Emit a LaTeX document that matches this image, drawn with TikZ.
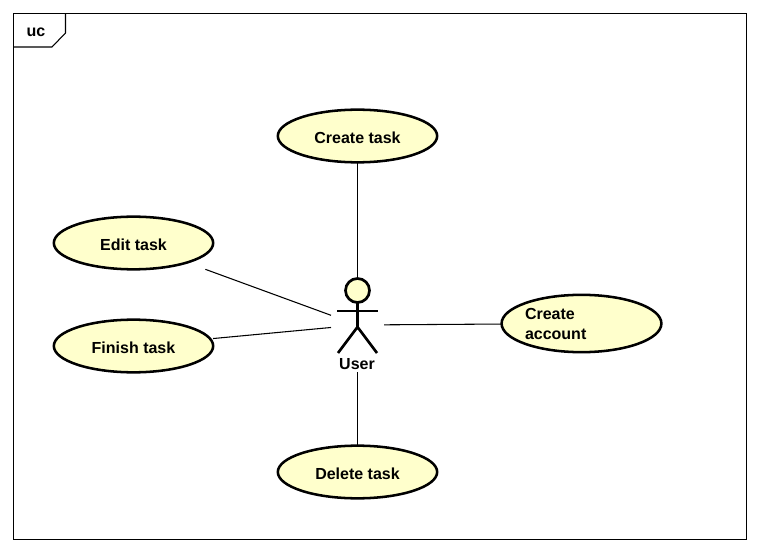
\documentclass[tikz,border=0pt]{standalone}
\usepackage{fontspec}
\setmainfont{Liberation Sans}
\usetikzlibrary{shapes.geometric}
\definecolor{ucfill}{RGB}{255,255,204}
\tikzset{
  usecase/.style={draw, ellipse, fill=ucfill, line width=1.9pt, inner sep=0pt, outer sep=0pt,
    minimum width=119.5pt, minimum height=39.5pt, font=\bfseries\fontsize{12}{15}\selectfont},
  oneline/.style={text height=10.6pt, text depth=0pt},
  ucbox/.style={rectangle, inner sep=0pt, outer sep=0pt, minimum width=119.5pt, minimum height=39.5pt},
  assoc/.style={draw, line width=0.8pt},
  stick/.style={draw, line width=2pt},
}
\begin{document}
\begin{tikzpicture}[x=0.75pt,y=-0.75pt]
\useasboundingbox (0,0) rectangle (760,552);
\fill[white] (0,0) rectangle (760,552);

\coordinate (tl) at (13.5,13.5);
\coordinate (br) at (746.5,539.5);
\draw[line width=0.8pt] (tl) rectangle (br);
\draw[line width=0.8pt] (13.5,47) -- (52,47) -- (65.5,33) -- (65.5,13.5);
\node[font=\bfseries\fontsize{12}{15}\selectfont] (tag) at (36,32) {uc};

\node[usecase, oneline] (create) at (357.5,136) {Create task};
\node[usecase, oneline] (edit) at (133.5,243) {Edit task};
\node[usecase, oneline] (finish) at (133.5,346) {Finish task};
\node[usecase, oneline] (delete) at (357.5,472) {Delete task};
\node[usecase, minimum height=43pt, align=left, text width=84.75pt] (account) at (581.5,323.5) {Create\\account};

\node[ucbox] (createbox) at (create) {};
\node[ucbox] (editbox) at (edit) {};
\node[ucbox] (finishbox) at (finish) {};
\node[ucbox] (deletebox) at (delete) {};
\node[ucbox, minimum height=43pt] (accountbox) at (account) {};

\node[draw, circle, fill=ucfill, line width=2pt, minimum size=18pt, inner sep=0pt, outer sep=0pt] (head) at (357.5,290.5) {};
\coordinate (neck) at (357.5,327);
\coordinate (footl) at (338,353);
\coordinate (footr) at (377,353);
\coordinate (arml) at (337,311);
\coordinate (armr) at (378,311);
\path[stick] (head) -- (neck);
\path[stick] (arml) -- (armr);
\path[stick] (footl) -- (neck) -- (footr);
\node[font=\bfseries\fontsize{12}{15}\selectfont] (name) at (357,364) {User};

\node[rectangle, inner sep=0pt, outer sep=0pt, minimum width=39.75pt, minimum height=70.5pt] (user) at (357.5,325) {};

\path[assoc] (createbox) -- (user);
\path[assoc] (editbox) -- (user);
\path[assoc] (finishbox) -- (user);
\path[assoc] (deletebox) -- (user);
\path[assoc] (accountbox) -- (user);
\end{tikzpicture}
\end{document}
